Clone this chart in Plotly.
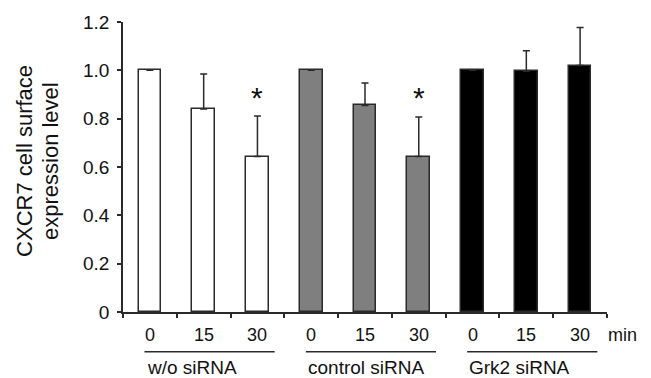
import plotly.graph_objects as go

# ---- data ----
groups = ["w/o siRNA", "control siRNA", "Grk2 siRNA"]
time_labels = ["0", "15", "30"]
values_wo = [1.0, 0.84, 0.643]
values_ctrl = [1.0, 0.855, 0.643]
values_grk2 = [1.0, 0.996, 1.02]
err_wo = [0.0, 0.145, 0.168]
err_ctrl = [0.0, 0.093, 0.164]
err_grk2 = [0.0, 0.085, 0.157]
sig_wo = ["", "", "*"]
sig_ctrl = ["", "", "*"]
sig_grk2 = ["", "", ""]
y_tickvals = [0, 0.2, 0.4, 0.6, 0.8, 1.0, 1.2]
y_ticktext = ["0", "0.2", "0.4", "0.6", "0.8", "1.0", "1.2"]
unit_label = "min"
y_title_lines = ["CXCR7 cell surface", "expression level"]

FONT = "Liberation Sans, Arial, Helvetica, sans-serif"
series = [
    (values_wo, err_wo, sig_wo, "#ffffff"),
    (values_ctrl, err_ctrl, sig_ctrl, "#7f7f7f"),
    (values_grk2, err_grk2, sig_grk2, "#000000"),
]

fig = go.Figure()
annotations = []
shapes = []
n = len(time_labels)
n_total = n * len(series)
for g, (vals, errs, sigs, col) in enumerate(series):
    xs = [g * n + i for i in range(n)]
    fig.add_trace(go.Bar(
        x=xs, y=vals, width=0.42,
        marker=dict(color=col, line=dict(color="#2a2a2a", width=1.5)),
        error_y=dict(type="data", array=errs, arrayminus=[0] * n, symmetric=False,
                     color="#2a2a2a", thickness=1.5, width=3.5),
        showlegend=False, hoverinfo="skip",
    ))
    for x, v, e, s, t in zip(xs, vals, errs, sigs, time_labels):
        # time tick label
        annotations.append(dict(x=x, y=0, xref="x", yref="paper", text=t,
                                showarrow=False, xanchor="center", yanchor="middle",
                                yshift=-23, font=dict(family=FONT, size=18, color="#111")))
        if s:
            annotations.append(dict(x=x, y=v + e, xref="x", yref="y", text=s,
                                    showarrow=False, yanchor="middle", yshift=19,
                                    font=dict(family=FONT, size=30, color="#111")))
    # group line and label
    x0 = xs[0] - 0.1
    x1 = xs[-1] + 0.32
    shapes.append(dict(type="line", xref="x", yref="paper", x0=x0, x1=x1,
                       y0=-0.137, y1=-0.137, line=dict(color="#2a2a2a", width=1.3)))
    annotations.append(dict(x=x0, y=0, xref="x", yref="paper", text=groups[g],
                            showarrow=False, xanchor="left", yanchor="middle", yshift=-55,
                            font=dict(family=FONT, size=19, color="#111")))

annotations.append(dict(x=1.0, y=0, xref="paper", yref="paper", text=unit_label,
                        showarrow=False, xanchor="left", yanchor="middle", yshift=-23,
                        xshift=-1,
                        font=dict(family=FONT, size=18, color="#111")))
for xp, line in zip([-0.204, -0.150], y_title_lines):
    annotations.append(dict(x=xp, y=0.522, xref="paper", yref="paper", text=line,
                            showarrow=False, textangle=-90, xanchor="center",
                            yanchor="middle",
                            font=dict(family=FONT, size=22, color="#111")))

fig.update_layout(
    width=651, height=378,
    margin=dict(l=123, r=44, t=13, b=66),
    paper_bgcolor="white", plot_bgcolor="white",
    bargap=0,
    font=dict(family=FONT, color="#111"),
    annotations=annotations, shapes=shapes,
    xaxis=dict(range=[-0.5, n_total - 0.5], tickmode="linear", tick0=-0.5, dtick=1,
               showticklabels=False,
               ticks="outside", ticklen=4, tickcolor="#2a2a2a", tickwidth=1.5,
               showline=True, linecolor="#2a2a2a", linewidth=1.5,
               showgrid=False, zeroline=False),
    yaxis=dict(range=[0, 1.2], tickmode="array", tickvals=y_tickvals, ticktext=y_ticktext,
               ticks="outside", ticklen=4, tickcolor="#2a2a2a", tickwidth=1.5,
               showline=True, linecolor="#2a2a2a", linewidth=1.5,
               showgrid=False, zeroline=False, tickfont=dict(size=19, color="#111"),
               ticklabelstandoff=4),
)

fig.write_html("out.html", config={"displayModeBar": False},
               post_script="document.body.style.margin='0';document.body.style.padding='0';")
